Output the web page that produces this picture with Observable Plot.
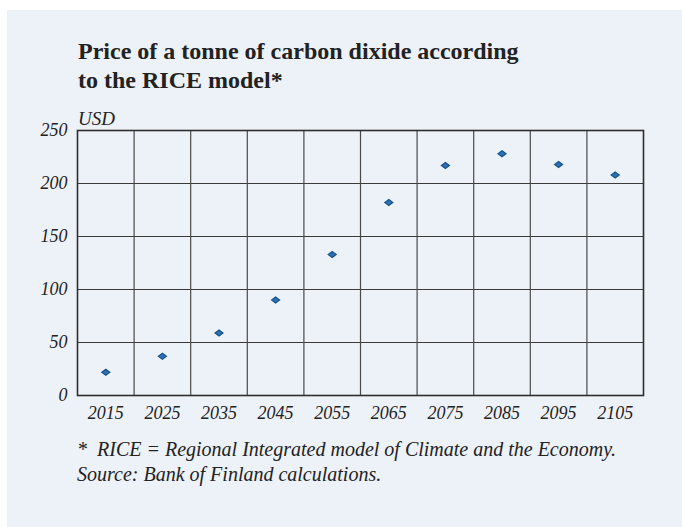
<!DOCTYPE html>
<html>
<head>
<meta charset="utf-8">
<script src="https://cdn.jsdelivr.net/npm/d3@7"></script>
<script src="https://cdn.jsdelivr.net/npm/@observablehq/plot@0.6"></script>
<style>
  html, body { margin: 0; padding: 0; background: #ffffff; }
  #wrap { position: relative; width: 682px; height: 527px; overflow: hidden; }
  #panel { position: absolute; left: 7px; top: 10px; right: 0; bottom: 0; background: #edf1f8; }
  .t { position: absolute; font-family: "Liberation Serif", "DejaVu Serif", serif; color: #222; white-space: nowrap; }
  #title { left: 78px; top: 37px; font-size: 24px; font-weight: bold; line-height: 29px; }
  #unit { left: 78px; top: 109px; font-size: 19px; font-style: italic; line-height: 20px; }
  #note { left: 77px; top: 437px; font-size: 20px; font-style: italic; line-height: 25px; }
  #chart { position: absolute; left: 0; top: 0; }
</style>
</head>
<body>
<div id="wrap">
  <div id="panel"></div>
  <div id="chart"></div>
  <div class="t" id="title">Price of a tonne of carbon dixide according<br>to the RICE model*</div>
  <div class="t" id="unit">USD</div>
  <div class="t" id="note">*&nbsp; RICE = Regional Integrated model of Climate and the Economy.<br>Source: Bank of Finland calculations.</div>
</div>
<script>
const years = [2015, 2025, 2035, 2045, 2055, 2065, 2075, 2085, 2095, 2105];
const prices = [22, 37, 59, 90, 133, 182, 217, 228, 218, 208];
const yTicks = [0, 50, 100, 150, 200, 250];

const data = years.map((y, i) => ({year: y, price: prices[i]}));
const bounds = years.slice(1).map(y => y - 5);

const wideDiamond = {
  draw(context, size) {
    const w = 4.0, h = 3.0;
    context.moveTo(0, -h);
    context.lineTo(w, 0);
    context.lineTo(0, h);
    context.lineTo(-w, 0);
    context.closePath();
  }
};

const chart = Plot.plot({
  width: 682,
  height: 527,
  marginLeft: 77,
  marginRight: 39,
  marginTop: 130,
  marginBottom: 132,
  style: {background: "transparent", fontFamily: "'Liberation Serif', serif", fontSize: "18px", fontStyle: "italic", color: "#222"},
  x: {domain: [years[0] - 5, years[years.length - 1] + 5], ticks: years, tickFormat: d => String(d), tickSize: 0, tickPadding: 11, label: null},
  y: {domain: [0, 250], ticks: yTicks, tickSize: 0, tickPadding: 10, label: null},
  marks: [
    Plot.ruleY(yTicks.slice(1, -1), {stroke: "#3a3a3a", strokeWidth: 1.2, strokeOpacity: 1}),
    Plot.ruleX(bounds, {stroke: "#4a4a4a", strokeWidth: 1.2, strokeOpacity: 1}),
    Plot.frame({stroke: "#2e2e2e", strokeWidth: 1.6}),
    Plot.dot(data, {x: "year", y: "price", symbol: wideDiamond, r: 4, fill: "#2f70b3", stroke: "#14558f", strokeWidth: 1.2})
  ]
});
document.getElementById("chart").appendChild(chart);
</script>
</body>
</html>
